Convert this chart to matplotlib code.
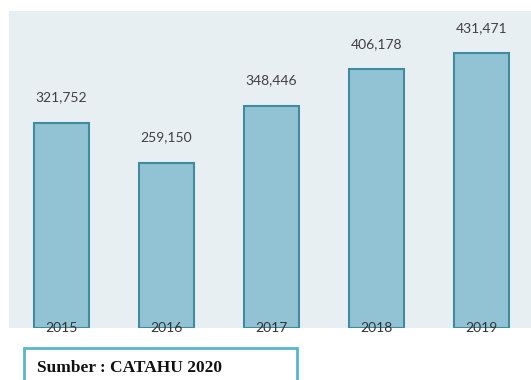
import matplotlib.pyplot as plt
from matplotlib.patches import Rectangle

years = ['2015', '2016', '2017', '2018', '2019']
cases = [321752, 259150, 348446, 406178, 431471]
source = 'Sumber : CATAHU 2020'

fig = plt.figure(figsize=(5.31, 3.8), dpi=100)
fig.patch.set_facecolor('white')

# panel area of the chart
ax = fig.add_axes([9 / 531, 52 / 380, 522 / 531, 317 / 380])
ax.set_facecolor('#e8eff3')
for s in ax.spines.values():
    s.set_visible(False)

x = list(range(len(years)))
ax.bar(x, cases, width=0.52, color='#92c3d5', edgecolor='#3f8ca1',
       linewidth=1.5, zorder=2)

for xi, v in zip(x, cases):
    ax.annotate(f'{v:,}', (xi, v), xytext=(0, 14), textcoords='offset points',
                ha='center', va='bottom', fontsize=10, color='#404040',
                family='Lato')
    ax.annotate(years[xi], (xi, 0), xytext=(0, 0), textcoords='offset points',
                ha='center', va='center', fontsize=10, color='#333333',
                family='Lato', zorder=3)

ax.set_xlim(-0.5, 4.47)
ax.set_ylim(0, 497600)
ax.set_xticks([])
ax.set_yticks([])

# source box
box = Rectangle((24 / 531, -0.05), 273 / 531, 32 / 380 + 0.05,
                transform=fig.transFigure, facecolor='white',
                edgecolor='#5ab5cd', linewidth=2, clip_on=False)
fig.patches.append(box)
fig.text(37 / 531, 12 / 380, source, family='Liberation Serif',
         fontweight='bold', fontsize=12.5, color='#111111', va='center')

fig.savefig('out.png', dpi=100)
